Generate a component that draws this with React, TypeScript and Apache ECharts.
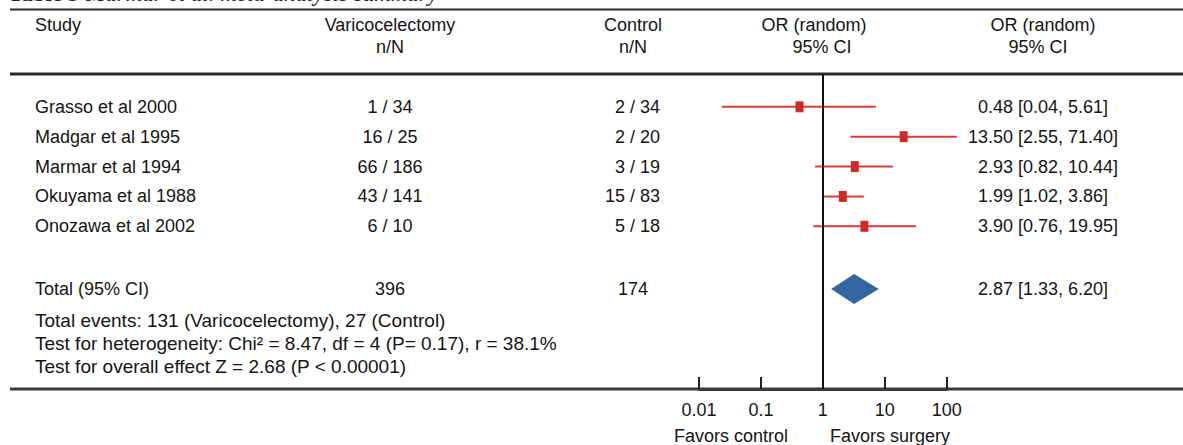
import React, { useEffect, useRef } from "react";
import * as echarts from "echarts";

// ---- data ----
const studies = [
  "Grasso et al 2000",
  "Madgar et al 1995",
  "Marmar et al 1994",
  "Okuyama et al 1988",
  "Onozawa et al 2002",
];
const varicoN = ["1 / 34", "16 / 25", "66 / 186", "43 / 141", "6 / 10"];
const controlN = ["2 / 34", "2 / 20", "3 / 19", "15 / 83", "5 / 18"];
const orText = ["0.48", "13.50", "2.93", "1.99", "3.90"];
const ciText = ["[0.04, 5.61]", "[2.55, 71.40]", "[0.82, 10.44]", "[1.02, 3.86]", "[0.76, 19.95]"];
// plotted marks
const orPoint = [0.42, 20.2, 3.28, 2.1, 4.69];
const ciLow = [0.0235, 2.79, 0.75, 1.02, 0.705];
const ciHigh = [7.2, 146, 13.5, 4.58, 32];

const totalLabel = "Total (95% CI)";
const totalVarico = "396";
const totalControl = "174";
const totalOrText = "2.87";
const totalCiText = "[1.33, 6.20]";
const totalPoint = 3.2;
const totalLow = 1.36;
const totalHigh = 8.0;

const xTicks = [0.01, 0.1, 1, 10, 100];

const summaryLines = [
  "Total events: 131 (Varicocelectomy), 27 (Control)",
  "Test for heterogeneity: Chi\u00B2 = 8.47, df = 4 (P= 0.17), r = 38.1%",
  "Test for overall effect Z = 2.68 (P < 0.00001)",
];

// ---- style ----
const FONT = "'Liberation Sans', Arial, Helvetica, sans-serif";
const FS = 18;
const TXT = "#141414";
const RED = "#d93a36";
const BOX = "#cf2a2a";
const BLUE = "#33679f";

const W = 1183;
const H = 445;
const GRID_TOP = 74;
const AXIS_Y = 389;
const Y_MAX = 10.55;

function txt(text: string, x: number, y: number, align: string, size: number = FS) {
  return {
    type: "text",
    x,
    y,
    silent: true,
    style: {
      text,
      fill: TXT,
      font: `${size}px ${FONT}`,
      align,
      verticalAlign: "middle",
    },
  };
}

export default function App() {
  const ref = useRef<HTMLDivElement>(null);
  useEffect(() => {
    document.body.style.margin = "0";
    const chart = echarts.init(ref.current!, null, { renderer: "svg" });

    const studyData = studies.map((_, i) => [i + 1.1, ciLow[i], ciHigh[i], orPoint[i], i]);
    const totalData = [[7.2, totalLow, totalHigh, totalPoint]];

    const option: any = {
      animation: false,
      backgroundColor: "#ffffff",
      grid: {
        left: 699,
        right: W - 946.7,
        top: GRID_TOP,
        bottom: H - AXIS_Y,
        containLabel: false,
      },
      xAxis: {
        type: "log",
        logBase: 10,
        min: xTicks[0],
        max: xTicks[xTicks.length - 1],
        position: "bottom",
        axisLine: { show: true, onZero: false, lineStyle: { color: "#3a3a3a", width: 3 } },
        axisTick: { show: true, inside: true, length: 12, lineStyle: { color: "#222", width: 2 } },
        axisLabel: {
          fontSize: FS,
          fontFamily: FONT,
          color: TXT,
          margin: 12,
          formatter: (v: number) => String(+v.toPrecision(3)),
        },
        splitLine: { show: false },
      },
      yAxis: {
        type: "value",
        min: 0,
        max: Y_MAX,
        inverse: true,
        show: false,
      },
      graphic: [
        {
          type: "text",
          x: 8,
          y: 5,
          silent: true,
          style: {
            text: "{b|Table 3}  {i|Marmar et al. meta-analysis summary}",
            verticalAlign: "bottom",
            rich: {
              b: { font: `bold 23px 'Liberation Serif', 'Times New Roman', serif`, fill: "#222" },
              i: { font: `italic 23px 'Liberation Serif', 'Times New Roman', serif`, fill: "#222" },
            },
          },
        },
        { type: "line", silent: true, shape: { x1: 10, y1: 9.5, x2: W, y2: 9.5 }, style: { stroke: "#2a2a2a", lineWidth: 2 } },
        { type: "line", silent: true, shape: { x1: 10, y1: 74, x2: W, y2: 74 }, style: { stroke: "#2a2a2a", lineWidth: 3 } },
        { type: "line", silent: true, shape: { x1: 10, y1: AXIS_Y, x2: W, y2: AXIS_Y }, style: { stroke: "#3a3a3a", lineWidth: 3 } },
        txt("Study", 35, 25, "left"),
        txt("Varicocelectomy", 390, 25, "center"),
        txt("n/N", 390, 47, "center"),
        txt("Control", 633, 25, "center"),
        txt("n/N", 633, 47, "center"),
        txt("OR (random)", 814, 25, "center"),
        txt("95% CI", 822, 47, "center"),
        txt("OR (random)", 1043, 25, "center"),
        txt("95% CI", 1038, 47, "center"),
        ...summaryLines.map((s, i) => txt(s, 35, 320 + i * 23, "left", 19)),
        txt("Favors control", 731, 436, "center"),
        txt("Favors surgery", 890, 436, "center"),
      ],
      series: [
        {
          type: "custom",
          name: "studies",
          clip: false,
          silent: true,
          data: studyData,
          encode: { x: [1, 2, 3], y: 0 },
          renderItem: (params: any, api: any) => {
            const yv = api.value(0);
            const idx = api.value(4);
            const lo = api.coord([api.value(1), yv]);
            const hi = api.coord([api.value(2), yv]);
            const pt = api.coord([api.value(3), yv]);
            const y = pt[1];
            return {
              type: "group",
              children: [
                { type: "line", shape: { x1: lo[0], y1: y, x2: hi[0], y2: y }, style: { stroke: RED, lineWidth: 2 } },
                { type: "rect", shape: { x: pt[0] - 4, y: y - 5.5, width: 8, height: 11 }, style: { fill: BOX } },
                txt(studies[idx], 35, y, "left"),
                txt(varicoN[idx], 390, y, "center"),
                txt(controlN[idx], 660, y, "right"),
                txt(orText[idx], 1013, y, "right"),
                txt(ciText[idx], 1018, y, "left"),
              ],
            };
          },
          markLine: {
            silent: true,
            symbol: "none",
            label: { show: false },
            lineStyle: { color: "#111", width: 2, type: "solid" },
            data: [{ xAxis: 1 }],
          },
        },
        {
          type: "custom",
          name: "total",
          clip: false,
          silent: true,
          data: totalData,
          encode: { x: [1, 2, 3], y: 0 },
          renderItem: (params: any, api: any) => {
            const yv = api.value(0);
            const lo = api.coord([api.value(1), yv]);
            const hi = api.coord([api.value(2), yv]);
            const pt = api.coord([api.value(3), yv]);
            const y = pt[1];
            const h = 15;
            return {
              type: "group",
              children: [
                {
                  type: "polygon",
                  shape: { points: [[lo[0], y], [pt[0], y - h], [hi[0], y], [pt[0], y + h]] },
                  style: { fill: BLUE },
                },
                txt(totalLabel, 35, y, "left"),
                txt(totalVarico, 390, y, "center"),
                txt(totalControl, 633, y, "center"),
                txt(totalOrText, 1013, y, "right"),
                txt(totalCiText, 1018, y, "left"),
              ],
            };
          },
        },
      ],
    };
    chart.setOption(option);
    return () => chart.dispose();
  }, []);
  return <div ref={ref} style={{ width: W, height: H }} />;
}
